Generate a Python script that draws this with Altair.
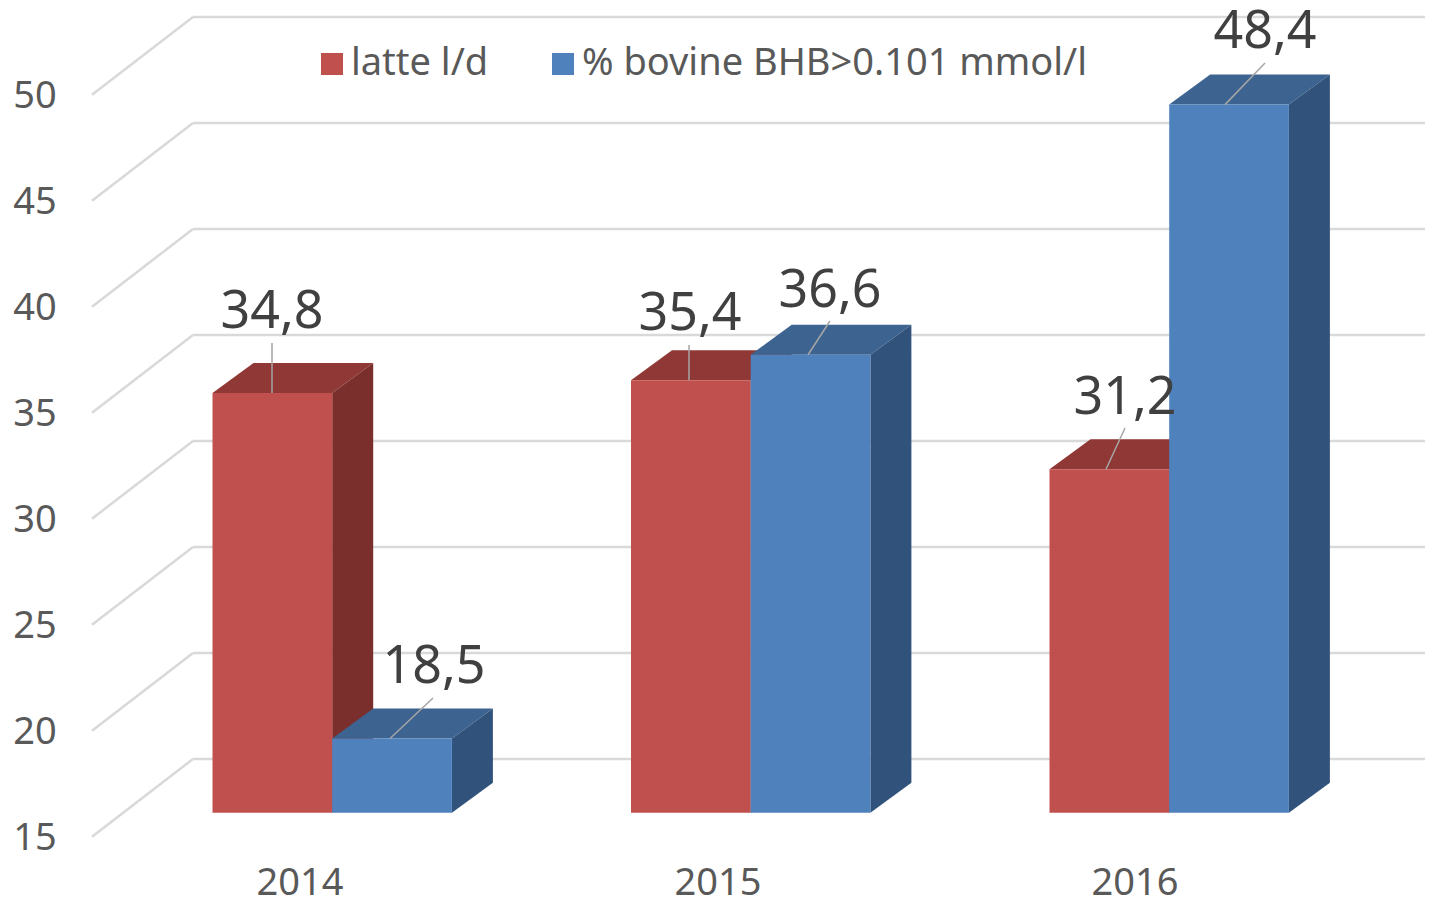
import altair as alt
import pandas as pd

years = ["2014", "2015", "2016"]
latte = [34.8, 35.4, 31.2]
bovine = [18.5, 36.6, 48.4]
value_labels_latte = ["34,8", "35,4", "31,2"]
value_labels_bovine = ["18,5", "36,6", "48,4"]
ticks = [15, 20, 25, 30, 35, 40, 45, 50]
series_names = ["latte l/d", "% bovine BHB>0.101 mmol/l"]

# layout (page-pixel geometry of the pseudo-3D frame)
W, H = 1417, 887
PX_PER_UNIT = 21.2
BASE_Y = 812.7
def val(py):
    return 15 + (BASE_Y - py) / PX_PER_UNIT
def X(px):
    return px - 8
group_left = [212.5, 631, 1049.5]
bar_w = 119.7
depth_x, depth_y = 41, 30 / PX_PER_UNIT
wall_dy = 53.7 / PX_PER_UNIT
front_dy = -24 / PX_PER_UNIT
wall_dx_left, wall_dx_right = 92, 193
year_x = [300, 718, 1135]
TEXT_DY = 2.5
label_pos = {  # label centre x, centre-y px, leader start x, y px, leader end x
    ("2014", 0): (272, 309, 272, 343, 272),
    ("2014", 1): (434, 664, 433, 698, 390),
    ("2015", 0): (690, 311, 689, 345, 689),
    ("2015", 1): (830, 288, 830, 321, 808),
    ("2016", 0): (1125, 395, 1125, 428, 1106),
    ("2016", 1): (1265, 29, 1265, 63, 1225),
}
FONT = "Noto Sans"
C_FRONT = ["#C0504D", "#4F81BD"]
C_TOP = ["#8F3836", "#3D6390"]
C_SIDE = ["#7A2F2D", "#31537B"]

xs = alt.Scale(domain=[0, W], range=[0, W], nice=False, zero=False)
ys = alt.Scale(domain=[val(8 + H), val(8)], range=[H, 0], nice=False, zero=False)
xq = lambda f: alt.X(f, type="quantitative", scale=xs, axis=None)
yq = lambda f: alt.Y(f, type="quantitative", scale=ys, axis=None)

rows, sides, tops, labels, leaders = [], [], [], [], []
for i, yr in enumerate(years):
    for s, vals, labs in ((0, latte, value_labels_latte), (1, bovine, value_labels_bovine)):
        v = vals[i]
        x0 = X(group_left[i] + s * bar_w)
        x1 = x0 + bar_w
        key = f"{yr}-{s}"
        rows.append(dict(series=series_names[s], x0=x0, x1=x1, v=v, base=15, s=s))
        sides += [
            dict(key=key, s=s, x=x1, lo=15, hi=v),
            dict(key=key, s=s, x=x1 + depth_x, lo=15 + depth_y, hi=v + depth_y),
        ]
        tops += [
            dict(key=key, s=s, y=v, a=x0, b=x1),
            dict(key=key, s=s, y=v + depth_y, a=x0 + depth_x, b=x1 + depth_x),
        ]
        lx, ly, sx, sy, ex = label_pos[(yr, s)]
        labels.append(dict(t=labs[i], x=X(lx), y=val(ly + TEXT_DY)))
        leaders.append(dict(x=X(sx), y=val(sy), x2=X(ex), y2=v))
rows, sides, tops = map(pd.DataFrame, (rows, sides, tops))
labels, leaders = map(pd.DataFrame, (labels, leaders))

grid_h = pd.DataFrame([dict(x=X(wall_dx_right), x2=W, y=t + wall_dy) for t in ticks])
grid_d = pd.DataFrame([dict(x=X(wall_dx_left), x2=X(wall_dx_right), y=t + front_dy, y2=t + wall_dy) for t in ticks])
tick_df = pd.DataFrame([dict(t=str(t), x=X(35), y=val(BASE_Y - (t - 15) * PX_PER_UNIT + 24 + TEXT_DY)) for t in ticks])
year_df = pd.DataFrame([dict(t=y, x=X(px), y=val(884)) for y, px in zip(years, year_x)])

GRID = "#D9D9D9"
g1 = alt.Chart(grid_h).mark_rule(color=GRID, strokeWidth=2.5).encode(x=xq("x"), x2="x2", y=yq("y"))
g2 = alt.Chart(grid_d).mark_rule(color=GRID, strokeWidth=2.5).encode(x=xq("x"), x2="x2", y=yq("y"), y2="y2")

parts = [g1, g2]
for s in (0, 1):
    top = alt.Chart(tops[tops.s == s]).mark_area(orient="horizontal", color=C_TOP[s]).encode(
        y=yq("y"), x=xq("a"), x2="b", detail="key:N")
    side = alt.Chart(sides[sides.s == s]).mark_area(color=C_SIDE[s]).encode(
        x=xq("x"), y=yq("lo"), y2="hi", detail="key:N")
    parts += [top, side]

front = alt.Chart(rows).mark_rect().encode(
    x=xq("x0"), x2="x1", y=yq("base"), y2="v",
    color=alt.Color("series:N", scale=alt.Scale(domain=series_names, range=C_FRONT),
                    legend=alt.Legend(orient="none", legendX=X(313), legendY=37, direction="horizontal",
                                      title=None, symbolType="square", symbolSize=484, symbolStrokeWidth=0,
                                      labelFont=FONT, labelFontSize=38, labelColor="#595959", labelLimit=0,
                                      padding=0, columnPadding=55, labelOffset=0, symbolOpacity=1)),
)
parts.append(front)

lead = alt.Chart(leaders).mark_rule(color="#A6A6A6", strokeWidth=1.5).encode(
    x=xq("x"), x2="x2", y=yq("y"), y2="y2")
parts.append(lead)
parts.append(alt.Chart(labels).mark_text(font=FONT, fontSize=52, color="#404040", baseline="middle").encode(
    x=xq("x"), y=yq("y"), text="t:N"))
parts.append(alt.Chart(tick_df).mark_text(font=FONT, fontSize=38, color="#595959", baseline="middle").encode(
    x=xq("x"), y=yq("y"), text="t:N"))
parts.append(alt.Chart(year_df).mark_text(font=FONT, fontSize=38, color="#595959", baseline="middle").encode(
    x=xq("x"), y=yq("y"), text="t:N"))

chart = alt.layer(*parts).properties(
    width=W, height=H, padding=0, autosize=alt.AutoSizeParams(type="none"), background="white"
).configure_view(stroke=None)
chart.save("out.html", embed_options={"renderer": "svg", "actions": False})
